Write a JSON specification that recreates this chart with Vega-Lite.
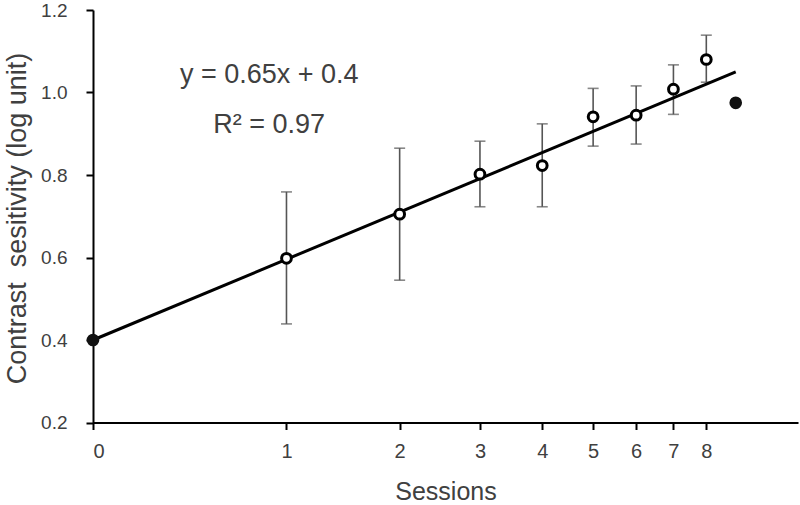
{
  "$schema": "https://vega.github.io/schema/vega-lite/v6.json",
  "autosize": "none",
  "width": 705,
  "height": 412.5,
  "padding": {"left": 93, "top": 10, "right": 2, "bottom": 82.5},
  "background": "white",
  "config": {
    "view": {"stroke": null},
    "font": "Liberation Sans",
    "axis": {
      "grid": false,
      "domainColor": "#000000",
      "domainWidth": 2,
      "tickColor": "#000000",
      "tickWidth": 2,
      "tickSize": 7,
      "labelFont": "Liberation Sans",
      "labelFontSize": 19,
      "labelColor": "#404040",
      "titleFont": "Liberation Sans",
      "titleFontSize": 25,
      "titleFontWeight": "normal",
      "titleColor": "#404040"
    }
  },
  "datasets": {
    "sessions": [
      {"session": 1, "cs": 0.598, "lo": 0.439, "hi": 0.759},
      {"session": 2, "cs": 0.705, "lo": 0.545, "hi": 0.865},
      {"session": 3, "cs": 0.802, "lo": 0.723, "hi": 0.882},
      {"session": 4, "cs": 0.823, "lo": 0.723, "hi": 0.924},
      {"session": 5, "cs": 0.941, "lo": 0.870, "hi": 1.010},
      {"session": 6, "cs": 0.945, "lo": 0.875, "hi": 1.016},
      {"session": 7, "cs": 1.008, "lo": 0.947, "hi": 1.067},
      {"session": 8, "cs": 1.080, "lo": 1.025, "hi": 1.139}
    ],
    "filled": [
      {"session": 0, "cs": 0.4},
      {"session": 9, "cs": 0.975}
    ],
    "fit": [
      {"session": 0, "cs": 0.4},
      {"session": 9, "cs": 1.05}
    ],
    "notes": [
      {"session": 0.88, "cs": 1.043, "label": "y = 0.65x + 0.4"},
      {"session": 0.88, "cs": 0.922, "label": "R² = 0.97"}
    ]
  },
  "encoding": {
    "x": {
      "field": "session",
      "type": "quantitative",
      "scale": {"type": "symlog", "constant": 1, "domain": [0, 11.5], "nice": false, "zero": false},
      "axis": {"values": [0, 1, 2, 3, 4, 5, 6, 7, 8], "title": "Sessions", "labelFontSize": 20, "labelPadding": 12, "titlePadding": 18, "format": "d"}
    },
    "y": {
      "field": "cs",
      "type": "quantitative",
      "scale": {"domain": [0.2, 1.2], "nice": false, "zero": false},
      "axis": {"values": [0.2, 0.4, 0.6, 0.8, 1.0, 1.2], "format": ".1f", "title": "Contrast\u00a0 sesitivity (log unit)", "labelFontSize": 19, "titleFontSize": 27, "titleY": 208, "labelPadding": 19, "titlePadding": 9}
    }
  },
  "layer": [
    {
      "data": {"name": "sessions"},
      "mark": {"type": "rule", "color": "#555555", "strokeWidth": 1.6},
      "encoding": {"y": {"field": "lo", "type": "quantitative"}, "y2": {"field": "hi"}}
    },
    {
      "data": {"name": "sessions"},
      "mark": {"type": "tick", "orient": "horizontal", "color": "#555555", "thickness": 1.6, "size": 11},
      "encoding": {"y": {"field": "lo", "type": "quantitative"}}
    },
    {
      "data": {"name": "sessions"},
      "mark": {"type": "tick", "orient": "horizontal", "color": "#555555", "thickness": 1.6, "size": 11},
      "encoding": {"y": {"field": "hi", "type": "quantitative"}}
    },
    {
      "data": {"name": "fit"},
      "mark": {"type": "line", "color": "#000000", "strokeWidth": 3},
      "encoding": {}
    },
    {
      "data": {"name": "sessions"},
      "mark": {"type": "point", "shape": "circle", "filled": false, "fill": "white", "fillOpacity": 1, "stroke": "#000000", "strokeWidth": 3, "size": 95, "opacity": 1},
      "encoding": {}
    },
    {
      "data": {"name": "filled"},
      "mark": {"type": "point", "shape": "circle", "filled": true, "color": "#111111", "size": 160, "opacity": 1},
      "encoding": {}
    },
    {
      "data": {"name": "notes"},
      "mark": {"type": "text", "font": "Liberation Sans", "fontSize": 27, "color": "#404040", "align": "center", "baseline": "middle"},
      "encoding": {"text": {"field": "label"}}
    }
  ]
}
